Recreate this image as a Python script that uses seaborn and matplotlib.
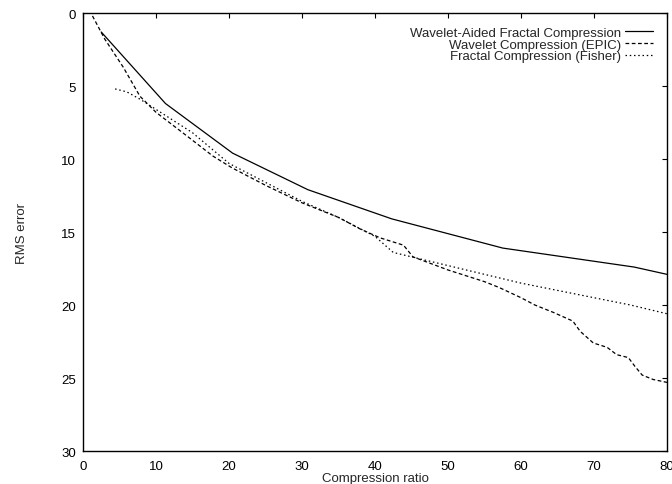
import pandas as pd
import matplotlib
matplotlib.use("Agg")
import matplotlib.pyplot as plt
import seaborn as sns

# Datos (razon de compresion vs error RMS)
aided_x = [2.5, 11.3, 20.5, 30.8, 42.3, 57.5, 75.5, 80.0]
aided_y = [1.3, 6.2, 9.6, 12.1, 14.1, 16.1, 17.4, 17.9]

epic_x = [1.3, 3.0, 5.5, 7.8, 10.0, 14.7, 17.8, 20.4, 25.0, 30.0, 35.0, 38.0,
          40.7, 43.9, 45.2, 50.0, 55.0, 57.0, 60.0, 61.9, 64.4, 67.1, 68.1,
          69.9, 71.8, 73.1, 74.7, 75.6, 76.6, 78.1, 80.0]
epic_y = [0.2, 1.8, 3.7, 5.7, 6.8, 8.6, 9.8, 10.6, 11.8, 13.0, 14.0, 14.8,
          15.4, 15.9, 16.7, 17.6, 18.4, 18.8, 19.5, 20.0, 20.5, 21.1, 21.8,
          22.6, 22.9, 23.4, 23.6, 24.2, 24.8, 25.1, 25.3]

fisher_x = [4.4, 6.0, 7.8, 10.0, 15.0, 20.0, 25.0, 30.0, 35.0, 40.0, 42.5,
            45.0, 50.0, 55.0, 60.0, 65.0, 70.0, 75.0, 80.0]
fisher_y = [5.2, 5.4, 5.9, 6.6, 8.2, 10.3, 11.6, 12.9, 14.0, 15.3, 16.4,
            16.7, 17.3, 17.9, 18.5, 19.0, 19.5, 20.0, 20.6]

nombres = ["Wavelet-Aided Fractal Compression",
           "Wavelet Compression (EPIC)",
           "Fractal Compression (Fisher)"]

df = pd.concat([
    pd.DataFrame({"ratio": aided_x, "rms": aided_y, "metodo": nombres[0]}),
    pd.DataFrame({"ratio": epic_x, "rms": epic_y, "metodo": nombres[1]}),
    pd.DataFrame({"ratio": fisher_x, "rms": fisher_y, "metodo": nombres[2]}),
])

sns.set_style("white")
plt.rcParams["font.family"] = ["Liberation Sans", "DejaVu Sans"]
fs = 9.5

fig = plt.figure(figsize=(6.72, 4.85), dpi=100)
ax = fig.add_axes([0.1235, 0.068, 0.8691, 0.9031])

sns.lineplot(
    data=df, x="ratio", y="rms", hue="metodo", style="metodo",
    palette=["black"] * 3,
    dashes={nombres[0]: "", nombres[1]: (3, 2), nombres[2]: (1.2, 2.2)},
    linewidth=0.9, ax=ax,
)

ax.set_xlim(0, 80)
ax.set_ylim(30, 0)
ax.set_xticks(range(0, 81, 10))
ax.set_yticks(range(0, 31, 5))
ax.tick_params(direction="in", length=3.5, width=0.8, top=True, right=True,
               labelsize=fs, colors="black")
ax.tick_params(axis="x", pad=6.5)
ax.tick_params(axis="y", pad=5)
for s in ax.spines.values():
    s.set_color("black")
    s.set_linewidth(1.0)

ax.set_xlabel("Compression ratio", fontsize=fs, labelpad=0)
ax.set_ylabel("RMS error", fontsize=fs, labelpad=24)

# leyenda estilo gnuplot: texto alineado a la derecha y muestra de linea al final
ax.legend(loc="upper right", frameon=False, markerfirst=False, fontsize=fs,
          handlelength=2.1, handletextpad=0.35, labelspacing=-0.05,
          borderpad=0.4, borderaxespad=0.65, title=None)

fig.savefig("out.png", dpi=100)
